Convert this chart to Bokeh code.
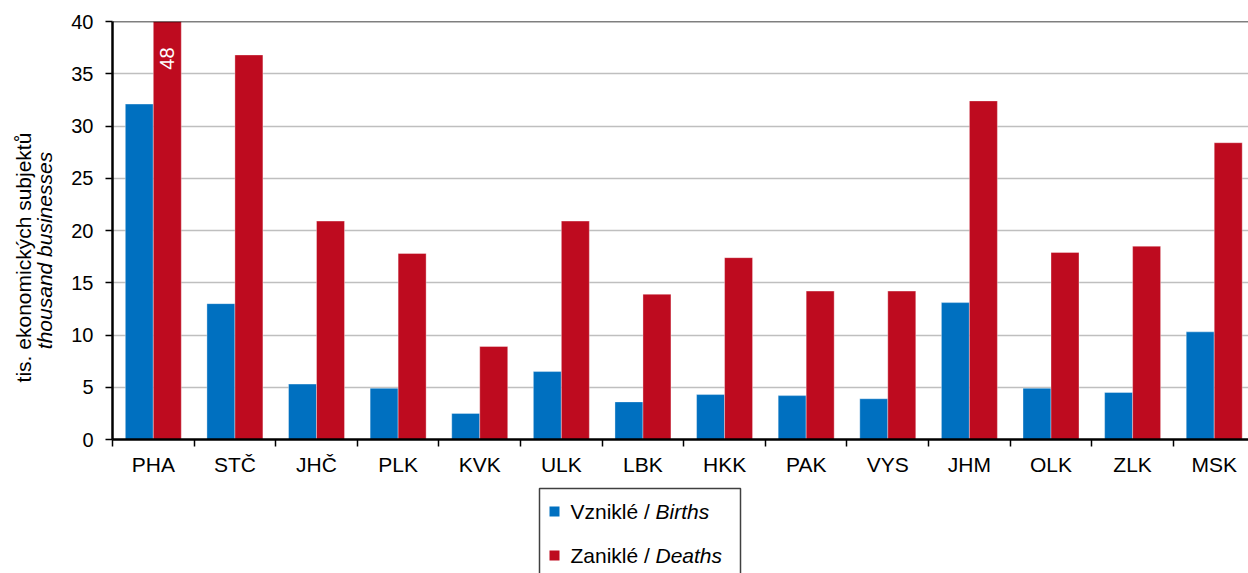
import numpy as np
from bokeh.plotting import figure
from bokeh.models import Range1d, FixedTicker, Span, Spacer
from bokeh.layouts import column, row
from bokeh.embed import file_html
from bokeh.resources import INLINE
from bokeh.core.properties import value

# ---------------- data ----------------
regions = ["PHA", "STČ", "JHČ", "PLK", "KVK", "ULK", "LBK", "HKK", "PAK", "VYS", "JHM", "OLK", "ZLK", "MSK"]
births = [32.1, 13.0, 5.3, 4.9, 2.5, 6.5, 3.6, 4.3, 4.2, 3.9, 13.1, 4.9, 4.5, 10.3]
deaths = [48.0, 36.8, 20.9, 17.8, 8.9, 20.9, 13.9, 17.4, 14.2, 14.2, 32.4, 17.9, 18.5, 28.4]
series_cz = ["Vzniklé /", "Zaniklé /"]
series_en = ["Births", "Deaths"]
y_ticks = [0, 5, 10, 15, 20, 25, 30, 35, 40]
y_title_cz = "tis. ekonomických subjektů"
y_title_en = "thousand businesses"

# ---------------- style ----------------
FONT = "Liberation Sans"
BLUE = "#0070C0"
RED = "#BE0B1F"
colors = [BLUE, RED]
Y_MAX = 40
BAR_W = 0.343
TITLE_W = 68          # width of the y-title column
AXIS_W = 44           # y-axis panel (ticks + labels)
FRAME_L = TITLE_W + AXIS_W
FRAME_W = 1248 - FRAME_L
TOP, FRAME_H, BOTTOM = 21, 418, 39
MAIN_H = TOP + FRAME_H + BOTTOM

idx = np.arange(len(regions))

p = figure(frame_width=FRAME_W, frame_height=FRAME_H,
           x_range=Range1d(-0.5, 13.42), y_range=Range1d(0, Y_MAX),
           output_backend="svg", toolbar_location=None,
           min_border_left=AXIS_W, min_border_right=0,
           min_border_top=TOP, min_border_bottom=BOTTOM)
p.outline_line_color = None

p.vbar(x=idx - BAR_W / 2, top=births, width=BAR_W, bottom=0,
       fill_color=BLUE, line_color="white", line_alpha=0.35, line_width=1)
p.vbar(x=idx + BAR_W / 2, top=deaths, width=BAR_W, bottom=0,
       fill_color=RED, line_color="white", line_alpha=0.35, line_width=1)

# value labels for bars exceeding the axis
over_x = [i + BAR_W / 2 for i, d in zip(idx, deaths) if d > Y_MAX]
over_t = [f"{d:.0f}" for d in deaths if d > Y_MAX]
p.text(x=over_x, y=[Y_MAX] * len(over_x), text=over_t, angle=np.pi / 2,
       text_align="right", text_baseline="middle", y_offset=26,
       text_color="white", text_font=value(FONT), text_font_size="20px")

# grid
p.xgrid.grid_line_color = None
p.ygrid.grid_line_color = "#BFBFBF"
p.ygrid.grid_line_width = 1.5
p.ygrid.ticker = FixedTicker(ticks=y_ticks)
p.add_layout(Span(location=Y_MAX, dimension="width", line_color="black", line_width=1.5))

# x axis
xa = p.xaxis[0]
xa.ticker = FixedTicker(ticks=list(idx), minor_ticks=[i - 0.5 for i in range(len(regions) + 1)])
xa.major_label_overrides = {int(i): r for i, r in zip(idx, regions)}
xa.major_tick_out = 0
xa.major_tick_in = 0
xa.minor_tick_out = 7
xa.minor_tick_in = 0
xa.minor_tick_line_color = "black"
xa.minor_tick_line_width = 1.5
xa.axis_line_color = "black"
xa.axis_line_width = 2.5
xa.major_label_standoff = 6
xa.major_label_text_font = FONT
xa.major_label_text_font_size = "21px"
xa.major_label_text_color = "black"

# y axis
ya = p.yaxis[0]
ya.ticker = FixedTicker(ticks=y_ticks)
ya.major_tick_out = 7
ya.major_tick_in = 0
ya.major_tick_line_color = "black"
ya.major_tick_line_width = 1.5
ya.axis_line_color = "black"
ya.axis_line_width = 2.5
ya.major_label_standoff = 12
ya.major_label_text_font = FONT
ya.major_label_text_font_size = "20px"
ya.major_label_text_color = "black"

# ---------------- y-axis title column (page-pixel coordinates) ----------------
tf = figure(frame_width=TITLE_W, frame_height=FRAME_H,
            x_range=Range1d(0, TITLE_W), y_range=Range1d(TOP + FRAME_H, TOP),
            x_axis_type=None, y_axis_type=None, output_backend="svg",
            toolbar_location=None, min_border_left=0, min_border_right=0,
            min_border_top=TOP, min_border_bottom=BOTTOM)
tf.outline_line_color = None
tf.grid.visible = False
tf.text(x=[23], y=[257], text=[y_title_cz], angle=np.pi / 2,
        text_align="center", text_baseline="middle",
        text_font=value(FONT), text_font_size="21px", text_color="black")
tf.text(x=[44], y=[250], text=[y_title_en], angle=np.pi / 2,
        text_align="center", text_baseline="middle",
        text_font=value(FONT), text_font_size="21px", text_font_style="italic",
        text_color="black")

# ---------------- legend (page-pixel coordinates) ----------------
LH = 573 - MAIN_H
lg = figure(frame_width=FRAME_W, frame_height=LH,
            x_range=Range1d(FRAME_L, FRAME_L + FRAME_W), y_range=Range1d(MAIN_H + LH, MAIN_H),
            x_axis_type=None, y_axis_type=None, output_backend="svg",
            toolbar_location=None, min_border_left=AXIS_W, min_border_right=0,
            min_border_top=0, min_border_bottom=0)
lg.outline_line_color = None
lg.grid.visible = False
lg.quad(left=539, right=740, top=488, bottom=620, fill_color=None,
        line_color="#404040", line_width=1.5)
row_y = [511, 555]
lg.rect(x=[554] * 2, y=row_y, width=10, height=10, fill_color=colors, line_color=None)
lg.text(x=[570] * 2, y=row_y, text=series_cz, text_baseline="middle", text_align="left",
        text_font=value(FONT), text_font_size="21px", text_color="black")
lg.text(x=[655] * 2, y=row_y, text=series_en, text_baseline="middle", text_align="left",
        text_font=value(FONT), text_font_size="21px", text_font_style="italic", text_color="black")

layout = column(row(tf, p, spacing=0), row(Spacer(width=TITLE_W, height=LH), lg, spacing=0), spacing=0)
open("out.html", "w").write(file_html(layout, INLINE))
